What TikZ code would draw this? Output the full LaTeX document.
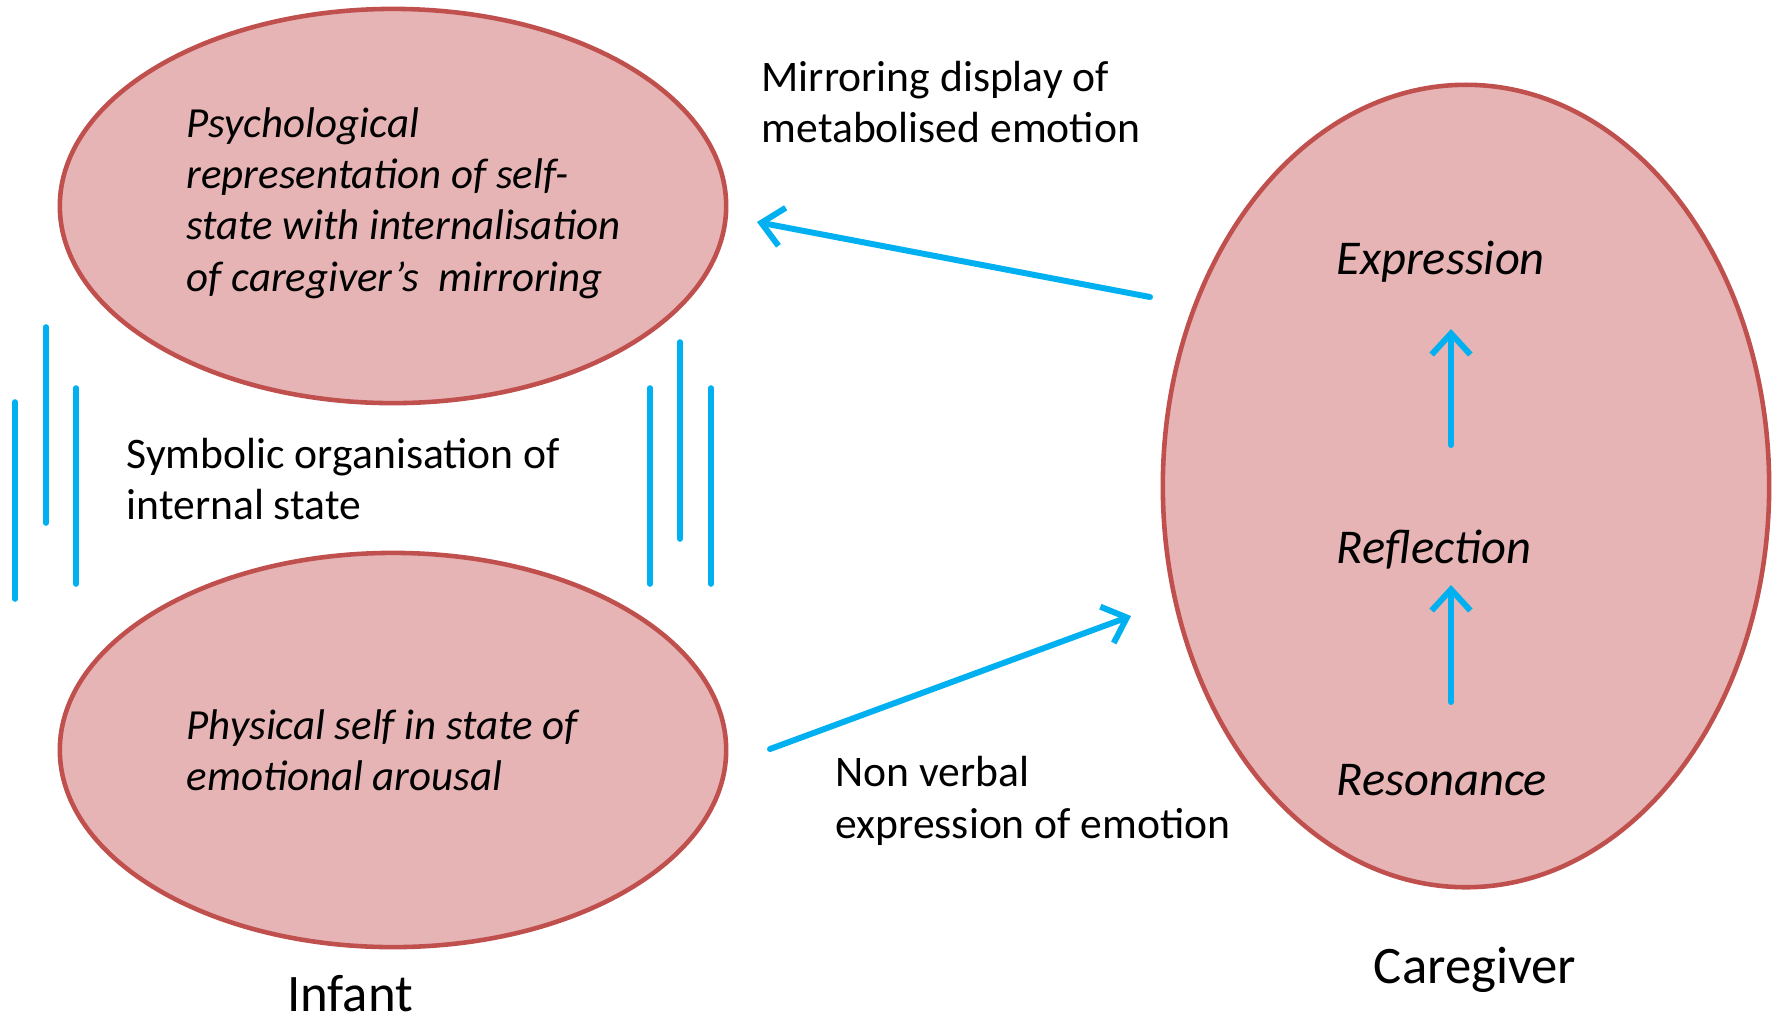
\documentclass[tikz,border=0pt]{standalone}
\usepackage{fontspec}
\setmainfont{Carlito}
\usetikzlibrary{arrows.meta,shapes.geometric}
\definecolor{blobfill}{RGB}{230,180,180}
\definecolor{blobline}{RGB}{192,80,77}
\definecolor{arrowblue}{RGB}{0,176,240}
\begin{document}
\begin{tikzpicture}[x=0.01cm,y=-0.01cm]
    \tikzstyle{blob}=[ellipse, draw=blobline, fill=blobfill, line width=1.3pt, inner sep=0pt]
    \tikzstyle{inner}=[anchor=west, align=left, font=\fontsize{12.2pt}{14.6pt}\selectfont\itshape, inner sep=0pt]
    \tikzstyle{outer}=[anchor=west, align=left, font=\fontsize{12.4pt}{14.6pt}\selectfont, inner sep=0pt]
    \tikzstyle{stage}=[anchor=west, font=\fontsize{13.8pt}{16pt}\selectfont\itshape, inner sep=0pt]
    \tikzstyle{flow}=[draw=arrowblue, line width=1.7pt, line cap=round, -{Straight Barb[length=6pt,width=11pt]}]
    \tikzstyle{bar}=[draw=arrowblue, line width=1.6pt, line cap=round]
    \useasboundingbox (0,0) rectangle (1775,1020);
    % ellipses
    \node[blob, minimum width=6.66cm, minimum height=3.94cm] (psy) at (393,206) {};
    \node[blob, minimum width=6.66cm, minimum height=3.94cm] (phy) at (393,750) {};
    \node[blob, minimum width=6.06cm, minimum height=8.02cm] (care) at (1466,486) {};
    % texts
    \node[inner] (psytext) at (186,203) {Psychological\\representation of self-\\state with internalisation\\of caregiver’s\ \ mirroring};
    \node[inner] (phytext) at (186,750) {Physical self in state of\\emotional arousal};
    \node[outer] (symb) at (126,479) {Symbolic organisation of\\internal state};
    \node[outer] (mirror) at (761,102) {Mirroring display of\\metabolised emotion};
    \node[outer] (nonverbal) at (835,801) {Non verbal\\expression of emotion};
    \node[stage] (expr) at (1336,262) {Expression};
    \node[stage] (refl) at (1336,550) {Reflection};
    \node[stage] (reso) at (1336,780) {Resonance};
    \node[font=\fontsize{15pt}{17pt}\selectfont, inner sep=0pt] (infant) at (350,994) {Infant};
    \node[font=\fontsize{15pt}{17pt}\selectfont, inner sep=0pt] (caregiver) at (1475,970) {Caregiver};
    % arrow ends
    \coordinate (mirA) at (1150,297);
    \coordinate (mirB) at (757,222);
    \coordinate (nvA) at (770,749);
    \coordinate (nvB) at (1131,616);
    \coordinate (upA) at (1451,445);
    \coordinate (upB) at (1451,329);
    \coordinate (upC) at (1451,702);
    \coordinate (upD) at (1451,585);
    \draw[flow] (mirA) -- (mirB);
    \draw[flow] (nvA) -- (nvB);
    \draw[flow] (upA) -- (upB);
    \draw[flow] (upC) -- (upD);
    % bars
    \draw[bar] (15,402) -- (15,599);
    \draw[bar] (46,327) -- (46,523);
    \draw[bar] (76,388) -- (76,584);
    \draw[bar] (650,388) -- (650,584);
    \draw[bar] (680,342) -- (680,539);
    \draw[bar] (711,388) -- (711,584);
\end{tikzpicture}
\end{document}
